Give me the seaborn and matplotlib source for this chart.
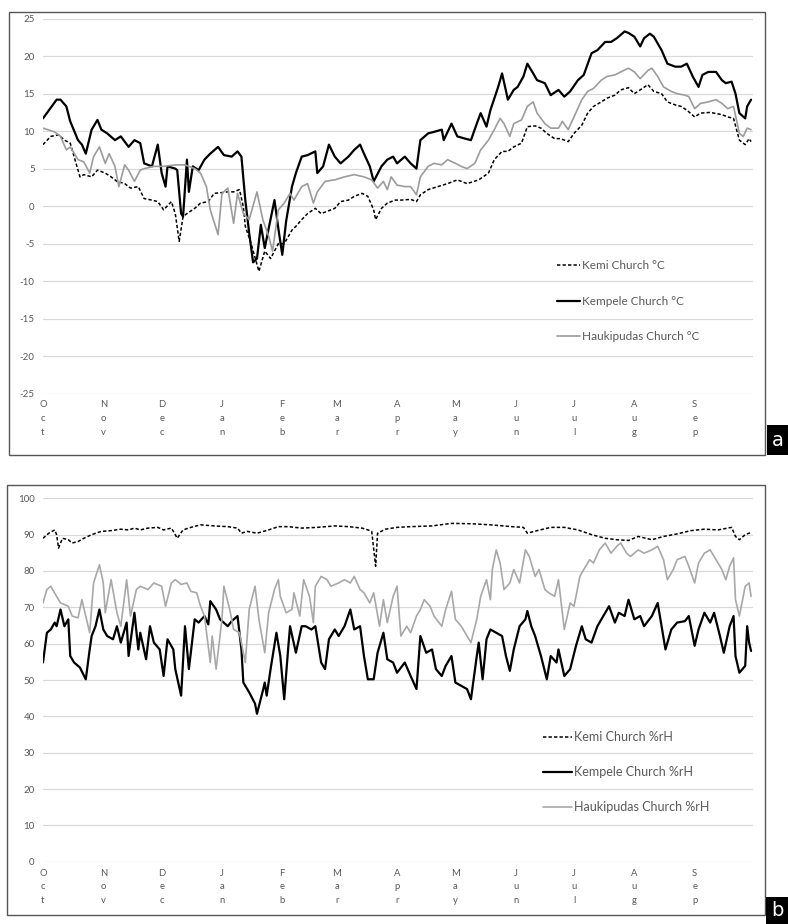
import numpy as np
import pandas as pd
import matplotlib
matplotlib.use("Agg")
import matplotlib.pyplot as plt
from matplotlib.patches import Rectangle
import seaborn as sns

# Day index counted from 1 October; (day, value)
KEMI_T = [(0,8.2),(4,9.3),(8,9.5),(11,8.8),(14,8.4),(16,6.6),(19,3.9),(21,4.2),(25,3.9),(28,4.8),(32,4.4),(35,3.9),
          (38,3.3),(42,3.0),(45,2.4),(49,2.6),(52,1.0),(56,0.8),(59,0.6),(62,-0.5),(66,0.6),(68,-1.0),(70,-4.7),(72,-1.4),
          (74,-1.0),(78,-0.3),(81,0.4),(85,0.6),(88,1.7),(92,1.8),(95,1.9),(98,1.9),(101,2.2),(103,-0.1),(104,-2.7),
          (107,-5.0),(111,-8.7),(114,-6.0),(117,-7.0),(121,-5.0),(124,-5.0),(128,-3.2),(130,-2.7),(133,-1.8),(136,-1.0),
          (140,-0.3),(143,-1.0),(146,-0.7),(150,-0.3),(153,0.6),(157,0.8),(160,1.3),(164,1.7),(167,1.3),(170,-0.5),
          (171,-1.8),(174,-0.3),(177,0.4),(181,0.8),(184,0.8),(189,0.9),(192,0.6),(194,1.5),(198,2.2),(203,2.6),(208,3.0),
          (213,3.5),(218,3.0),(224,3.5),(229,4.4),(232,6.2),(236,7.3),(239,7.3),(242,7.9),(246,8.4),(249,10.6),(253,10.7),
          (256,10.4),(259,9.7),(263,9.0),(266,9.0),(270,8.6),(273,9.7),(277,10.8),(280,12.4),(283,13.3),(287,13.9),
          (290,14.4),(294,14.8),(297,15.5),(301,15.8),(304,15.0),(307,15.5),(311,16.2),(314,15.3),(318,15.0),(321,13.9),
          (325,13.5),(328,13.3),(331,12.8),(335,11.9),(338,12.4),(343,12.5),(349,12.2),(352,11.9),(355,11.7),(358,8.8),
          (361,8.2),(363,9.0),(364,8.6)]

KEMPELE_T = [(0,11.7),(7,14.2),(9,14.2),(12,13.3),(14,11.3),(18,8.8),(20,8.2),(22,7.0),(25,10.2),(28,11.5),(30,10.2),
             (33,9.7),(37,8.8),(40,9.3),(44,7.9),(47,8.8),(50,8.4),(52,5.7),(56,5.3),(59,8.2),(61,4.4),(63,2.6),(64,5.3),
             (68,5.0),(69,4.8),(71,-1.0),(72,-1.4),(74,6.2),(75,1.9),(77,5.3),(80,4.8),(83,6.2),(86,7.0),(90,7.9),(93,6.8),
             (97,6.6),(100,7.3),(102,6.6),(104,0.8),(106,-3.6),(108,-7.5),(110,-7.0),(112,-2.5),(114,-5.6),(116,-3.0),
             (119,0.8),(121,-3.0),(123,-6.5),(125,-2.0),(128,2.6),(130,4.4),(133,6.6),(136,6.8),(140,7.3),(141,4.4),
             (144,5.3),(147,8.2),(150,6.6),(153,5.7),(157,6.6),(160,7.5),(163,8.2),(165,7.0),(168,5.3),(170,3.3),(174,5.3),
             (177,6.2),(180,6.6),(182,5.7),(186,6.6),(189,5.7),(192,5.0),(194,8.8),(198,9.7),(201,9.9),(205,10.2),(206,8.8),
             (210,11.0),(213,9.3),(217,9.0),(220,8.8),(223,11.0),(225,12.4),(228,10.6),(230,12.8),(234,15.9),(236,17.7),
             (239,14.2),(242,15.5),(244,15.9),(247,17.3),(249,19.0),(252,17.7),(254,16.8),(258,16.4),(261,14.8),(265,15.5),
             (268,14.6),(271,15.3),(275,16.8),(278,17.5),(282,20.4),(285,20.8),(289,21.9),(292,21.9),(295,22.4),(299,23.3),
             (301,23.1),(304,22.6),(307,21.3),(309,22.4),(312,23.0),(314,22.6),(318,20.8),(321,19.0),(325,18.6),(328,18.6),
             (331,19.0),(334,17.3),(337,15.9),(339,17.5),(342,17.9),(346,17.9),(349,16.8),(351,16.4),(354,16.6),(356,15.0),
             (358,12.4),(361,11.7),(362,13.3),(364,14.2)]

HAUKI_T = [(0,10.4),(6,9.9),(9,9.3),(12,7.5),(14,7.9),(18,6.2),(21,5.9),(24,4.4),(26,6.6),(29,7.9),(32,5.7),(34,7.0),
           (37,5.3),(39,2.6),(42,5.5),(44,4.8),(47,3.3),(50,4.8),(52,5.0),(57,5.3),(62,5.3),(68,5.5),(73,5.5),(78,5.0),
           (81,4.4),(84,2.6),(86,-0.5),(90,-3.8),(92,1.7),(95,2.4),(98,-2.3),(100,1.7),(103,-1.0),(106,-1.8),(110,1.9),
           (113,-1.8),(116,-4.0),(118,-6.0),(121,-0.5),(124,0.4),(127,1.7),(129,0.8),(133,2.6),(136,3.0),(139,0.4),
           (141,1.9),(145,3.3),(150,3.5),(155,3.9),(160,4.2),(165,3.9),(169,3.5),(172,2.4),(175,3.3),(177,2.2),(179,3.9),
           (182,2.8),(186,2.6),(189,2.6),(192,1.5),(194,3.9),(198,5.3),(201,5.7),(205,5.5),(208,6.2),(212,5.7),(215,5.3),
           (218,5.0),(222,5.7),(225,7.5),(229,8.8),(232,10.2),(235,11.7),(237,11.0),(240,9.3),(242,11.0),(246,11.5),
           (249,13.3),(252,13.9),(254,12.4),(258,11.0),(261,10.4),(265,10.4),(267,11.3),(270,10.2),(273,11.9),(277,14.2),
           (280,15.3),(283,15.7),(287,16.8),(290,17.3),(294,17.5),(297,17.9),(301,18.4),(304,17.9),(307,17.0),(311,18.1),
           (313,18.4),(316,17.3),(319,15.9),(323,15.3),(326,15.0),(330,14.8),(332,14.6),(335,13.0),(338,13.7),(342,13.9),
           (346,14.2),(349,13.7),(352,13.0),(355,13.3),(358,9.7),(360,9.3),(362,10.4),(364,10.2)]

KEMI_RH = [(0,89.0),(3,90.4),(6,91.3),(7,90.0),(8,86.3),(10,89.0),(13,88.6),(15,87.7),(18,88.1),(21,89.0),(25,90.0),
           (30,90.9),(35,91.1),(40,91.5),(44,91.3),(47,91.8),(50,91.3),(54,91.8),(59,92.0),(62,91.3),(66,91.8),(68,90.0),
           (69,89.0),(72,91.3),(76,92.0),(81,92.7),(88,92.4),(95,92.2),(100,91.8),(102,90.4),(105,90.9),(110,90.4),
           (116,91.3),(121,92.2),(126,92.2),(133,91.8),(141,92.0),(150,92.4),(157,92.2),(164,91.8),(167,91.3),(169,90.9),
           (171,81.3),(172,90.4),(176,91.5),(182,92.0),(189,92.2),(200,92.4),(210,93.1),(220,93.0),(230,92.7),(241,92.2),
           (247,92.0),(249,90.4),(254,91.1),(261,92.0),(268,92.0),(275,91.3),(282,90.0),(289,89.0),(295,88.6),(301,88.4),
           (306,89.5),(313,88.6),(319,89.5),(326,90.2),(333,91.1),(340,91.5),(347,91.3),(354,92.0),(356,89.5),(358,88.6),
           (361,90.0),(364,90.6)]

KEMPELE_RH = [(0,54.8),(2,63.0),(4,63.9),(6,65.8),(7,64.8),(9,69.4),(11,64.8),(13,66.7),(14,56.6),(16,54.8),(18,53.9),
              (19,53.4),(22,50.2),(24,58.4),(25,62.1),(27,64.8),(29,69.4),(31,63.9),(33,62.1),(36,61.2),(38,64.8),(40,60.3),
              (43,65.8),(44,56.6),(47,68.5),(49,58.4),(50,63.0),(53,55.7),(55,64.8),(57,60.3),(60,58.4),(62,51.1),(64,61.2),
              (67,58.4),(68,53.0),(71,45.7),(73,64.8),(75,53.0),(78,66.7),(80,65.8),(83,67.6),(85,65.3),(86,71.7),(89,69.4),
              (91,66.7),(95,64.8),(97,66.2),(100,67.6),(102,58.4),(103,49.3),(106,46.6),(109,43.5),(110,40.7),(113,47.0),
              (114,49.3),(115,45.7),(117,53.0),(120,63.0),(122,56.6),(124,44.7),(126,58.4),(127,64.8),(130,57.5),(133,64.8),
              (135,64.8),(138,63.9),(140,64.8),(143,54.8),(145,53.0),(147,61.2),(150,63.9),(152,62.1),(155,64.8),(158,69.4),
              (160,63.9),(163,64.8),(165,56.6),(167,50.2),(170,50.2),(172,57.5),(175,63.0),(177,55.7),(180,54.8),(182,52.0),
              (186,54.8),(189,51.1),(192,47.5),(194,62.1),(197,57.5),(200,58.4),(202,53.0),(205,51.1),(207,53.9),(210,56.6),
              (212,49.3),(215,48.4),(218,47.5),(220,44.7),(223,56.6),(224,60.3),(226,50.2),(228,61.2),(230,63.9),(233,63.0),
              (236,62.1),(238,56.6),(240,52.5),(242,58.4),(245,64.8),(248,66.7),(249,69.0),(251,64.8),(253,62.1),(256,56.6),
              (259,50.2),(261,56.6),(264,54.8),(265,58.4),(268,51.1),(271,53.0),(274,59.4),(277,64.8),(279,61.2),(282,60.3),
              (285,64.8),(289,68.5),(291,70.3),(294,65.8),(296,68.5),(299,67.6),(301,72.1),(304,66.7),(307,67.6),(309,64.8),
              (313,67.6),(316,71.2),(318,64.8),(320,58.4),(323,63.9),(326,65.8),(330,66.2),(332,67.6),(335,59.4),(337,63.9),
              (340,68.5),(343,65.8),(345,68.5),(348,62.1),(350,57.5),(353,64.8),(355,67.6),(356,56.6),(358,52.0),(361,53.9),
              (362,64.8),(363,60.3),(364,58.0)]

HAUKI_RH = [(0,71.2),(2,74.9),(4,75.8),(7,73.0),(9,71.2),(13,70.3),(15,67.6),(18,67.1),(20,72.1),(22,67.6),(24,63.0),
            (26,76.7),(29,81.7),(31,76.7),(32,68.5),(35,77.6),(38,68.5),(40,64.8),(43,77.6),(45,67.6),(48,74.9),(50,75.8),
            (54,74.9),(57,76.7),(61,75.8),(63,70.3),(66,76.7),(68,77.6),(71,76.3),(74,76.7),(76,74.4),(79,74.0),(81,70.3),
            (83,67.6),(86,54.8),(87,62.1),(89,53.0),(92,66.7),(93,75.8),(96,69.4),(98,63.9),(101,63.0),(104,54.8),(106,69.4),
            (109,75.8),(111,66.7),(114,57.5),(116,68.5),(119,74.9),(121,77.6),(122,73.0),(125,68.5),(128,69.4),(129,74.0),
            (132,67.6),(134,77.6),(137,73.0),(139,65.8),(140,75.8),(143,78.5),(146,77.6),(148,75.8),(152,76.7),(155,77.6),
            (158,76.7),(160,78.5),(163,74.9),(165,74.0),(168,71.2),(170,74.0),(173,64.8),(175,72.1),(177,65.8),(180,73.0),
            (182,75.8),(184,62.1),(187,64.8),(189,63.0),(192,67.6),(194,69.4),(196,72.1),(199,70.3),(201,67.6),(205,64.8),
            (207,69.4),(210,74.4),(212,66.7),(215,64.8),(218,62.1),(220,60.3),(223,66.7),(225,73.0),(228,77.6),(230,72.1),
            (231,80.4),(233,85.8),(235,82.2),(237,74.9),(240,76.7),(242,80.4),(245,76.7),(248,85.8),(250,84.0),(253,78.5),
            (255,80.4),(258,74.9),(260,74.0),(263,73.0),(265,77.6),(268,63.9),(271,71.2),(273,70.3),(276,78.5),(278,80.4),
            (281,83.1),(283,82.2),(286,85.8),(289,87.7),(292,84.9),(295,86.8),(297,87.7),(300,84.9),(302,84.0),(306,85.8),
            (309,84.9),(313,85.8),(316,86.8),(319,83.1),(321,77.6),(324,80.4),(326,83.1),(330,84.0),(332,81.3),(335,76.7),
            (337,82.2),(340,84.9),(343,85.8),(346,83.1),(349,80.4),(351,77.6),(353,81.3),(355,83.6),(356,72.1),(358,67.6),
            (361,75.8),(363,76.7),(364,73.0)]

MONTHS = ['Oct', 'Nov', 'Dec', 'Jan', 'Feb', 'Mar', 'Apr', 'May', 'Jun', 'Jul', 'Aug', 'Sep']
MONTH_START = [0, 31, 61, 92, 123, 151, 182, 212, 243, 273, 304, 335]

TEXT = '#595959'
GRID = '#d9d9d9'

sns.set_style('white')
plt.rcParams['font.family'] = ['Lato', 'DejaVu Sans']

W, H = 788, 924
fig = plt.figure(figsize=(W / 100, H / 100), dpi=100)


def px_axes(left, top, right, bottom):
    return fig.add_axes([left / W, 1 - bottom / H, (right - left) / W, (bottom - top) / H])


def draw_panel(ax, series, ylim, yticks, legend_anchor, leg_size, handle_len, spacing):
    for data, label, color, lw, ls in series:
        d = pd.DataFrame(data, columns=['day', 'value'])
        sns.lineplot(data=d, x='day', y='value', ax=ax, color=color, lw=lw,
                     linestyle=ls, label=label, estimator=None, sort=False)
    ax.set_xlim(0, 365)
    ax.set_ylim(*ylim)
    ax.set_yticks(yticks)
    ax.set_yticklabels([str(t) for t in yticks], fontsize=7, color=TEXT)
    ax.set_xticks(MONTH_START)
    ax.set_xticklabels(['\n'.join(m) for m in MONTHS], fontsize=6.8, color=TEXT)
    for lbl in ax.get_xticklabels():
        lbl.set_linespacing(1.65)
    ax.tick_params(length=0, axis='y', pad=6)
    ax.tick_params(length=0, axis='x', pad=5)
    ax.yaxis.grid(True, color=GRID, lw=0.9)
    ax.xaxis.grid(False)
    for s in ax.spines.values():
        s.set_visible(False)
    ax.set_xlabel('')
    ax.set_ylabel('')
    leg = ax.legend(loc='upper left', bbox_to_anchor=legend_anchor, frameon=False,
                    fontsize=leg_size, handlelength=handle_len, handletextpad=0.2,
                    labelspacing=spacing, borderpad=0, borderaxespad=0)
    for t in leg.get_texts():
        t.set_color(TEXT)


dash = (0, (2.2, 1.4))

# panel a: temperature
ax1 = px_axes(43, 18.7, 753, 393.5)
draw_panel(ax1,
           [(KEMI_T, 'Kemi Church °C', 'black', 1.1, dash),
            (KEMPELE_T, 'Kempele Church °C', 'black', 1.6, '-'),
            (HAUKI_T, 'Haukipudas Church °C', '#9c9c9c', 1.2, '-')],
           (-25, 25), list(range(-25, 30, 5)), (0.724, 0.355), 8.5, 1.95, 2.05)

# panel b: relative humidity
ax2 = px_axes(43, 498.3, 753, 861.7)
draw_panel(ax2,
           [(KEMI_RH, 'Kemi Church %rH', 'black', 1.1, dash),
            (KEMPELE_RH, 'Kempele Church %rH', 'black', 1.6, '-'),
            (HAUKI_RH, 'Haukipudas Church %rH', '#a8a8a8', 1.2, '-')],
           (0, 100), list(range(0, 110, 10)), (0.704, 0.36), 9, 2.3, 1.85)

# panel frames and corner labels
for (l, t, r, b) in [(9, 12, 765, 455), (7, 485, 765, 915)]:
    fig.add_artist(Rectangle((l / W, 1 - b / H), (r - l) / W, (b - t) / H,
                             transform=fig.transFigure, fill=False, ec='#555555', lw=1))
for (l, t, r, b, s) in [(767, 425, 788, 455, 'a'), (766, 897, 788, 924, 'b')]:
    fig.add_artist(Rectangle((l / W, 1 - b / H), (r - l) / W, (b - t) / H,
                             transform=fig.transFigure, fc='black', ec='none'))
    fig.text((l + r) / 2 / W, 1 - (t + b) / 2 / H, s, color='white', fontsize=14,
             ha='center', va='center', family=['DejaVu Sans'])

fig.savefig('out.png', dpi=100)
